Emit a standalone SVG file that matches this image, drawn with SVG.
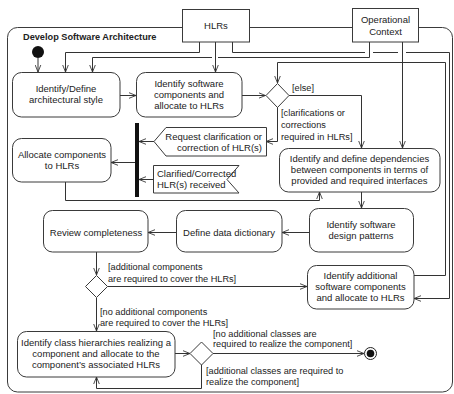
<svg xmlns="http://www.w3.org/2000/svg" width="454" height="394" viewBox="0 0 454 394">
<style>
.n{fill:#fff;stroke:#3a3a3a;stroke-width:1}
.t{font-family:"Liberation Sans",Arial,sans-serif;font-size:9.5px;fill:#222;text-anchor:middle}
.g{font-family:"Liberation Sans",Arial,sans-serif;font-size:9.2px;fill:#222}
.c{fill:none;stroke:#333;stroke-width:1}
.ca{fill:none;stroke:#333;stroke-width:1;marker-end:url(#a)}
</style>
<defs>
<marker id="a" viewBox="0 0 8 8" refX="8" refY="4" markerWidth="7" markerHeight="7" orient="auto" markerUnits="userSpaceOnUse">
<path d="M0,0.8 L8,4 L0,7.2" fill="none" stroke="#333" stroke-width="1"/>
</marker>
</defs>
<rect width="454" height="394" fill="#fff"/>
<g id="frame">
<rect x="7.5" y="27.5" width="445" height="364.5" rx="10" fill="none" stroke="#3a3a3a" stroke-width="1"/>
<text x="23" y="40" font-family="Liberation Sans,Arial,sans-serif" font-size="9.2" font-weight="bold" fill="#222">Develop Software Architecture</text>
</g>
<g id="connectors">
<path class="ca" d="M38,58 V72"/>
<path class="ca" d="M199.5,42 V52.5 H65.5 V72"/>
<path class="ca" d="M215.5,42 V72"/>
<path class="ca" d="M369.5,42 V57.5 H218 M212,57.5 H92.5 V72"/>
<path class="ca" d="M232.5,42 V52.5 H365 M373,52.5 H398 M406,52.5 H449.5 V298.5 H414"/>
<path class="ca" d="M402.5,42 V148"/>
<path class="ca" d="M414,275.5 H445.5 V62.5 H277.5 V83"/>
<path class="ca" d="M120,95.5 H136"/>
<path class="ca" d="M242,95.5 H265.5"/>
<path class="ca" d="M289,95.5 H361.5 V148"/>
<path class="ca" d="M277.5,107 V141.5 H266"/>
<path class="ca" d="M154,141.5 H139"/>
<path class="ca" d="M153,179.5 H139"/>
<path class="ca" d="M135,162.5 H111"/>
<path class="ca" d="M65.5,182 V200.5 H319.5 V192"/>
<path class="ca" d="M361.5,192 V208"/>
<path class="ca" d="M309,232.5 H282"/>
<path class="ca" d="M176,232.5 H148"/>
<path class="ca" d="M96.5,252 V275"/>
<path class="ca" d="M107.5,286.5 H307"/>
<path class="ca" d="M96.5,298 V331"/>
<path class="ca" d="M175,353.5 H190"/>
<path class="ca" d="M213,353.5 H364"/>
<path class="ca" d="M201.5,365 V388.5 H96.5 V377"/>
</g>
<g id="HLRs">
<rect class="n" x="182.5" y="9.5" width="67" height="32.5"/>
<text class="t" x="216" y="29">HLRs</text>
</g>
<g id="OperationalContext">
<rect class="n" x="352.5" y="8.5" width="66" height="33.5"/>
<text class="t" x="385.5" y="23">Operational</text>
<text class="t" x="385.5" y="34.5">Context</text>
</g>
<g id="initial">
<circle cx="38" cy="52" r="6" fill="#111"/>
</g>
<g id="identifyDefine">
<rect class="n" x="12.5" y="72.5" width="107.5" height="44.5" rx="9"/>
<text class="t" x="66" y="92.3">Identify/Define</text>
<text class="t" x="66" y="103.3">architectural style</text>
</g>
<g id="identifyComponents">
<rect class="n" x="136.5" y="72.5" width="105.5" height="44.5" rx="9"/>
<text class="t" x="189" y="87">Identify software</text>
<text class="t" x="189" y="98">components and</text>
<text class="t" x="189" y="109">allocate to HLRs</text>
</g>
<g id="decision1">
<path class="n" d="M277.5,83.5 L289,95.5 L277.5,107.5 L266,95.5 Z"/>
<text class="g" x="292" y="91">[else]</text>
<text class="g" x="281" y="116">[clarifications or</text>
<text class="g" x="281" y="128">corrections</text>
<text class="g" x="281" y="140">required in HLRs]</text>
</g>
<g id="join">
<rect x="135" y="123" width="4" height="74" fill="#111"/>
</g>
<g id="requestClarification">
<path class="n" d="M154,141.5 L166,127.5 H266.5 V156 H166 Z"/>
<text class="t" x="262" y="140" style="text-anchor:end">Request clarification or</text>
<text class="t" x="262" y="151" style="text-anchor:end">correction of HLR(s)</text>
</g>
<g id="clarifiedReceived">
<path class="n" d="M153.5,165.5 H239 L227,179.5 L239,193 H153.5 Z"/>
<text class="t" x="157" y="177" style="text-anchor:start">Clarified/Corrected</text>
<text class="t" x="157" y="188" style="text-anchor:start">HLR(s) received</text>
</g>
<g id="allocateComponents">
<rect class="n" x="12.5" y="138.5" width="98.5" height="43.5" rx="9"/>
<text class="t" x="62" y="158">Allocate components</text>
<text class="t" x="62" y="169">to HLRs</text>
</g>
<g id="dependencies">
<rect class="n" x="279.5" y="148.5" width="160.5" height="43.5" rx="9"/>
<text class="t" x="359.5" y="162.3">Identify and define dependencies</text>
<text class="t" x="359.5" y="173.3">between components in terms of</text>
<text class="t" x="359.5" y="184.3">provided and required interfaces</text>
</g>
<g id="designPatterns">
<rect class="n" x="309.5" y="208.5" width="104" height="43.5" rx="9"/>
<text class="t" x="361" y="228">Identify software</text>
<text class="t" x="361" y="239">design patterns</text>
</g>
<g id="dataDictionary">
<rect class="n" x="176.5" y="210.5" width="105.5" height="41.5" rx="9"/>
<text class="t" x="229" y="235.5">Define data dictionary</text>
</g>
<g id="reviewCompleteness">
<rect class="n" x="43.5" y="210.5" width="104.5" height="41.5" rx="9"/>
<text class="t" x="96" y="235.5">Review completeness</text>
</g>
<g id="decision2">
<path class="n" d="M96.5,275.5 L107.5,286.5 L96.5,297.5 L85.5,286.5 Z"/>
<text class="g" x="108" y="270">[additional components</text>
<text class="g" x="108" y="281.5">are required to cover the HLRs]</text>
<text class="g" x="100" y="315">[no additional components</text>
<text class="g" x="100" y="326">are required to cover the HLRs]</text>
</g>
<g id="identifyAdditional">
<rect class="n" x="307.5" y="265.5" width="106.5" height="43.5" rx="9"/>
<text class="t" x="360.5" y="279.3">Identify additional</text>
<text class="t" x="360.5" y="290.3">software components</text>
<text class="t" x="360.5" y="301.3">and allocate to HLRs</text>
</g>
<g id="classHierarchies">
<rect class="n" x="17.5" y="331.5" width="157.5" height="45.5" rx="9"/>
<text class="t" x="96" y="346.3">Identify class hierarchies realizing a</text>
<text class="t" x="96" y="357.3">component and allocate to the</text>
<text class="t" x="96" y="368.3">component’s associated HLRs</text>
</g>
<g id="decision3">
<path class="n" d="M201.5,342 L213,353.5 L201.5,365 L190,353.5 Z"/>
<text class="g" x="213" y="337">[no additional classes are</text>
<text class="g" x="213" y="347">required to realize the component]</text>
<text class="g" x="206" y="374">[additional classes are required to</text>
<text class="g" x="206" y="384.5">realize the component]</text>
</g>
<g id="final">
<circle cx="370.5" cy="353.5" r="6" fill="#fff" stroke="#222" stroke-width="1"/>
<circle cx="370.5" cy="353.5" r="3.8" fill="#111"/>
</g>
</svg>
